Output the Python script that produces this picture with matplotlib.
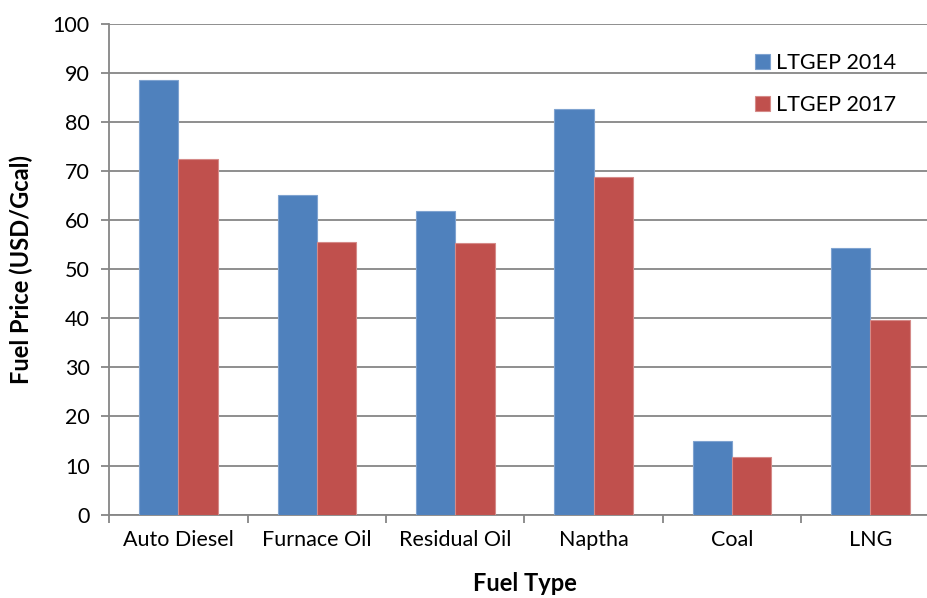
import matplotlib
matplotlib.use("Agg")
import matplotlib.pyplot as plt
import numpy as np

categories = ["Auto Diesel", "Furnace Oil", "Residual Oil", "Naptha", "Coal", "LNG"]
ltgep_2014 = [88.6, 65.1, 61.8, 82.7, 15.0, 54.3]
ltgep_2017 = [72.4, 55.5, 55.4, 68.7, 11.7, 39.6]
series_labels = ["LTGEP 2014", "LTGEP 2017"]
yticks = [0, 10, 20, 30, 40, 50, 60, 70, 80, 90, 100]

plt.rcParams['font.family'] = ['Lato', 'DejaVu Sans']

W, H = 928, 598
fig = plt.figure(figsize=(W / 100, H / 100), dpi=100)
left_px, right_px = 109.3, 939.7
bot_px, top_px = 514.6, 23.6
ax = fig.add_axes([left_px / W, (H - bot_px) / H, (right_px - left_px) / W, (bot_px - top_px) / H])

grid_c = "#868686"
x = np.arange(len(categories))
bw = 0.284
ax.bar(x - bw / 2, ltgep_2014, bw, color="#4F81BD", edgecolor="#7FA3D0", linewidth=0.8, label=series_labels[0], zorder=3)
ax.bar(x + bw / 2, ltgep_2017, bw, color="#C0504D", edgecolor="#D58A88", linewidth=0.8, label=series_labels[1], zorder=3)

ax.set_xlim(-0.5, len(categories) - 0.5)
ax.set_ylim(0, 100)
ax.set_yticks(yticks)
ax.set_yticklabels([str(v) for v in yticks])
ax.yaxis.grid(True, color=grid_c, linewidth=1.3, zorder=0)
ax.set_axisbelow(True)

tick_fs = 15.5
ax.set_xticks(x)
ax.set_xticklabels(categories)
ax.tick_params(axis='x', which='major', length=0, pad=11, labelsize=tick_fs)
ax.set_xticks(np.arange(-0.5, len(categories), 1.0), minor=True)
ax.tick_params(axis='x', which='minor', length=6, width=1.3, color=grid_c, direction='out')
ax.tick_params(axis='y', length=6, width=1.3, color=grid_c, direction='out', pad=8, labelsize=tick_fs)

for s in ["top", "right"]:
    ax.spines[s].set_visible(False)
for s in ["left", "bottom"]:
    ax.spines[s].set_color(grid_c)
    ax.spines[s].set_linewidth(1.3)

ax.set_ylabel("Fuel Price (USD/Gcal)", fontsize=17, fontweight='bold', labelpad=14)
ax.set_xlabel("Fuel Type", fontsize=17, fontweight='bold', labelpad=16)

leg = fig.legend(loc='upper left', bbox_to_anchor=(746 / W, 1 - 44 / H), frameon=False,
                 fontsize=tick_fs, handlelength=0.7, handleheight=0.7, handletextpad=0.3,
                 labelspacing=1.05, borderaxespad=0)

fig.savefig("out.png", dpi=100)
